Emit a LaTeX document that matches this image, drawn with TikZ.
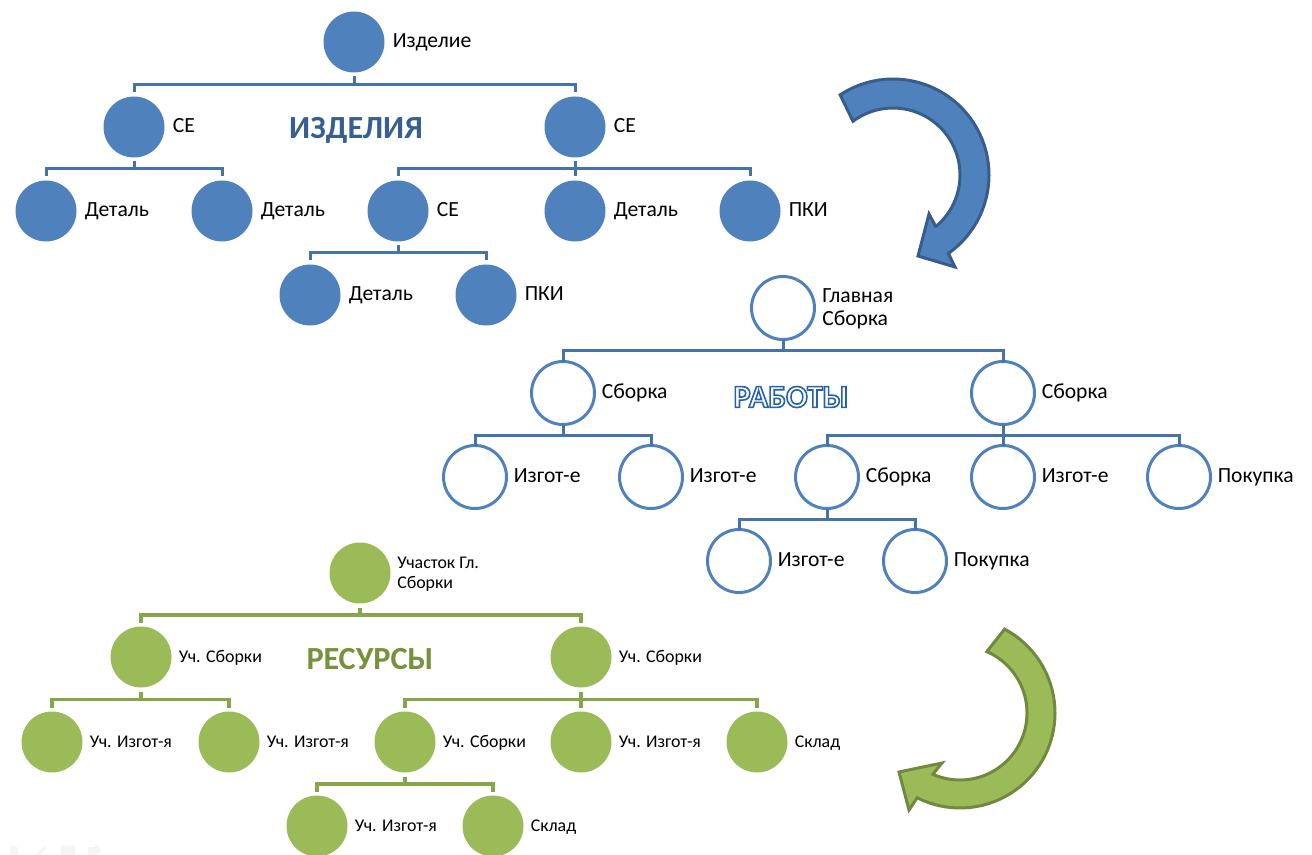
\documentclass[tikz,border=0pt]{standalone}
\usepackage{fontspec}
\setmainfont{Carlito}
\newfontfamily\outlinefont[FakeBold=5]{Carlito Bold}
\usetikzlibrary{calc}
\definecolor{bfill}{HTML}{4F81BD}
\definecolor{bline}{HTML}{385D8A}
\definecolor{bconn}{HTML}{4472AA}
\definecolor{gfill}{HTML}{9BBB59}
\definecolor{gline}{HTML}{71893F}
\definecolor{gconn}{HTML}{86A64A}
\definecolor{btitle}{HTML}{376092}
\definecolor{gtitle}{HTML}{76923C}
\tikzset{
  bluecirc/.style={circle,fill=bfill,minimum size=45.75pt,inner sep=0pt,outer sep=3pt},
  whitecirc/.style={circle,draw=bfill,line width=2.25pt,fill=white,minimum size=47.25pt,inner sep=0pt,outer sep=0pt},
  greencirc/.style={circle,fill=gfill,minimum size=45.75pt,inner sep=0pt,outer sep=3pt},
  biglabel/.style={inner sep=0pt,font=\fontsize{16.2}{17.5}\selectfont,align=left,text=black},
  smalllabel/.style={inner sep=0pt,xshift=-0.75pt,font=\fontsize{13.4}{15}\selectfont,align=left,text=black},
  bconnector/.style={draw=bconn,line width=2.25pt},
  gconnector/.style={draw=gconn,line width=2.4pt},
  title/.style={inner sep=0pt,font=\fontsize{24.2}{28}\selectfont\bfseries},
  ghost/.style={fill=black!4,draw=none}
}
% name, x, y, circle style, label style, label
\newcommand{\treenode}[6]{%
  \node[#4] (#1) at (#2,#3) {};
  \node[#5,anchor=base west] (#1t) at ({#2+38.5},{#3+5.5}) {#6};
}
\newcommand{\link}[3]{\draw[#1] (#2.south) -- ($(#2.south)!.5!(#2.south|-#3.north)$) -| (#3.north);}
\begin{document}
\begin{tikzpicture}[x=0.75pt,y=-0.75pt]
\useasboundingbox (0,0) rectangle (1312,855);
% ---- products
\treenode{a0}{354}{42}{bluecirc}{biglabel}{Изделие}
\treenode{a1}{134}{127}{bluecirc}{biglabel}{СЕ}
\treenode{a2}{575}{127}{bluecirc}{biglabel}{СЕ}
\treenode{a3}{46}{211}{bluecirc}{biglabel}{Деталь}
\treenode{a4}{222}{211}{bluecirc}{biglabel}{Деталь}
\treenode{a5}{398}{211}{bluecirc}{biglabel}{СЕ}
\treenode{a6}{575}{211}{bluecirc}{biglabel}{Деталь}
\treenode{a7}{750}{211}{bluecirc}{biglabel}{ПКИ}
\treenode{a8}{310}{295}{bluecirc}{biglabel}{Деталь}
\treenode{a9}{486}{295}{bluecirc}{biglabel}{ПКИ}
\foreach \p/\c in {a0/a1,a0/a2,a1/a3,a1/a4,a2/a5,a2/a6,a2/a7,a5/a8,a5/a9}{\link{bconnector}{\p}{\c}}
\node[title,text=btitle] (t1) at (356,130) {ИЗДЕЛИЯ};
% ---- works
\node[whitecirc] (b0) at (783,308) {};
\node[biglabel,anchor=west] (b0t) at (822,309) {Главная\\Сборка};
\treenode{b1}{563}{393}{whitecirc}{biglabel}{Сборка}
\treenode{b2}{1003}{393}{whitecirc}{biglabel}{Сборка}
\treenode{b3}{475}{477}{whitecirc}{biglabel}{Изгот-е}
\treenode{b4}{651}{477}{whitecirc}{biglabel}{Изгот-е}
\treenode{b5}{827}{477}{whitecirc}{biglabel}{Сборка}
\treenode{b6}{1003}{477}{whitecirc}{biglabel}{Изгот-е}
\treenode{b7}{1179}{477}{whitecirc}{biglabel}{Покупка}
\treenode{b8}{739}{561}{whitecirc}{biglabel}{Изгот-е}
\treenode{b9}{915}{561}{whitecirc}{biglabel}{Покупка}
\foreach \p/\c in {b0/b1,b0/b2,b1/b3,b1/b4,b2/b5,b2/b6,b2/b7,b5/b8,b5/b9}{\link{bconnector}{\p}{\c}}
\node[inner sep=0pt,font=\fontsize{24}{28}\selectfont\outlinefont,text=white] (t2) at (791,397)
  {\special{pdf:code 0.15 0.38 0.68 RG}РАБОТЫ};
% ---- resources
\node[greencirc] (c0) at (360,573) {};
\node[smalllabel,anchor=west] (c0t) at (398,574) {Участок Гл.\\Сборки};
\treenode{c1}{141}{657}{greencirc}{smalllabel}{Уч. Сборки}
\treenode{c2}{581}{657}{greencirc}{smalllabel}{Уч. Сборки}
\treenode{c3}{52}{742}{greencirc}{smalllabel}{Уч. Изгот-я}
\treenode{c4}{229}{742}{greencirc}{smalllabel}{Уч. Изгот-я}
\treenode{c5}{405}{742}{greencirc}{smalllabel}{Уч. Сборки}
\treenode{c6}{581}{742}{greencirc}{smalllabel}{Уч. Изгот-я}
\treenode{c7}{757}{742}{greencirc}{smalllabel}{Склад}
\treenode{c8}{317}{826}{greencirc}{smalllabel}{Уч. Изгот-я}
\treenode{c9}{493}{826}{greencirc}{smalllabel}{Склад}
\foreach \p/\c in {c0/c1,c0/c2,c1/c3,c1/c4,c2/c5,c2/c6,c2/c7,c5/c8,c5/c9}{\link{gconnector}{\p}{\c}}
\node[title,text=gtitle] (t3) at (370,659) {РЕСУРСЫ};
% ---- blue curved arrow
\draw[fill=bfill,draw=bline,line width=2.25pt,line join=miter]
  plot[domain=-123.4:54.8,samples=50] ({893+96*cos(\x)},{175+96*sin(\x)})
  -- (955,267) -- (918,256) -- (929,214) -- (936,227)
  -- plot[domain=50.4:-126.7,samples=50] ({893+67*cos(\x)},{175+67*sin(\x)})
  -- cycle;
% ---- green curved arrow
\draw[fill=gfill,draw=gline,line width=2.25pt,line join=miter]
  plot[domain=-62:116.8,samples=50] ({960+95*cos(\x)},{713+95*sin(\x)})
  -- (909,810) -- (899,772) -- (942,763) -- (933,774)
  -- plot[domain=113.9:-66.4,samples=50] ({960+67*cos(\x)},{713+67*sin(\x)})
  -- cycle;
% ---- faint slide controls
\fill[ghost] (10,847) -- (13,844) -- (13,847) -- (18,847) -- (18,855) -- (10,855) -- cycle;
\fill[ghost] (35,855) -- (45,846) -- (47,848) -- (40,855) -- cycle;
\fill[ghost] (61,846) rectangle (75,855);
\fill[ghost] (88,847) -- (95,847) -- (95,844) -- (102,850) -- (96,855) -- (88,855) -- cycle;
\end{tikzpicture}
\end{document}
